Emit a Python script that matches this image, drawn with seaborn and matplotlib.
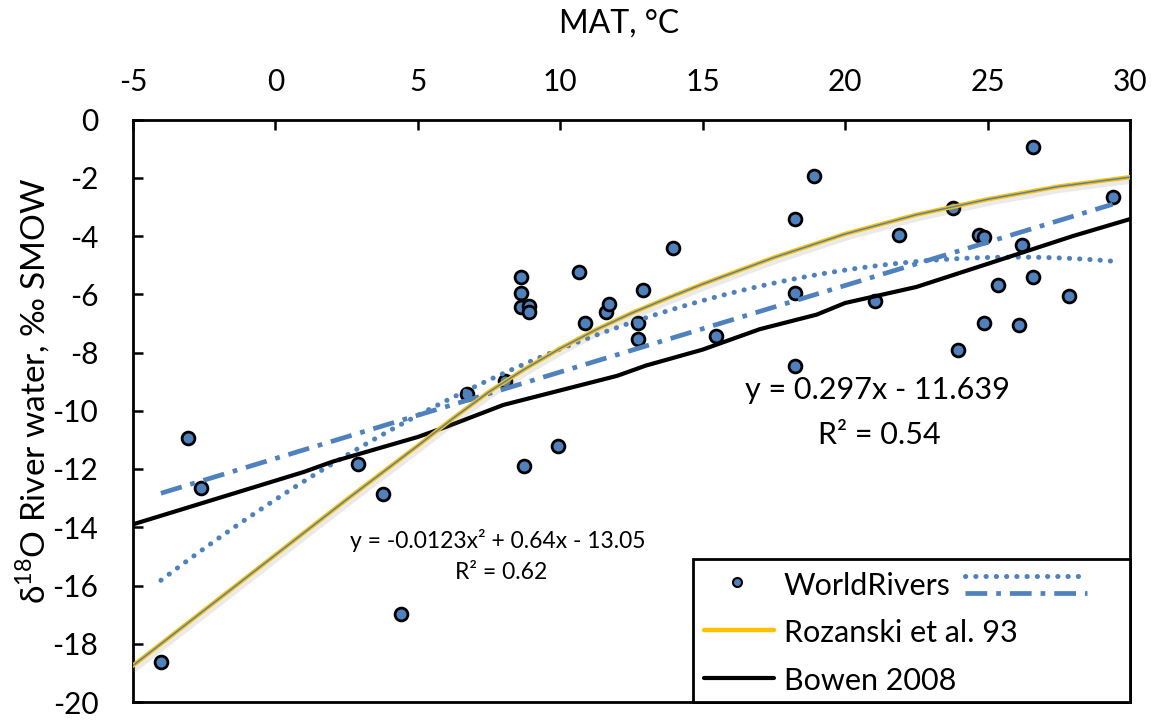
import matplotlib
matplotlib.use("Agg")
import matplotlib.pyplot as plt
import seaborn as sns
import numpy as np
import pandas as pd
from matplotlib import patheffects as pe
from matplotlib.lines import Line2D
from matplotlib.patches import Rectangle

# ---- data -----------------------------------------------------------------
# World rivers: mean annual temperature (°C) and river-water d18O (‰ SMOW)
river_mat = [-4.02, -3.06, -2.62, 2.90, 3.76, 4.42, 6.74, 8.05, 8.61, 8.61,
             8.61, 8.90, 8.90, 8.71, 9.92, 10.64, 10.87, 11.61, 11.71, 12.73,
             12.73, 12.92, 13.95, 15.45, 18.25, 18.25, 18.25, 18.92, 21.06, 21.90,
             23.77, 23.95, 24.71, 24.88, 24.88, 25.35, 26.11, 26.20, 26.58, 26.58,
             27.85, 29.39]
river_d18o = [-18.63, -10.92, -12.65, -11.84, -12.85, -16.97, -9.43, -8.99, -5.42, -5.95,
              -6.43, -6.41, -6.60, -11.91, -11.20, -5.24, -6.97, -6.60, -6.32, -6.98,
              -7.52, -5.87, -4.42, -7.43, -3.40, -5.97, -8.46, -1.94, -6.24, -3.95,
              -3.03, -7.90, -3.95, -4.03, -6.98, -5.69, -7.07, -4.32, -0.93, -5.42,
              -6.07, -2.67]

# Rozanski et al. (1993) relation
roz_mat = [-5, -2.5, 0, 2.5, 5, 6.25, 7.5, 8.75, 10, 11.25, 12.5, 13.75, 15,
           17.5, 20, 22.5, 25, 27.5, 30]
roz_d18o = [-18.75, -16.85, -14.95, -13.05, -11.2, -10.25, -9.35, -8.57, -7.86,
            -7.22, -6.65, -6.14, -5.65, -4.74, -3.93, -3.27, -2.74, -2.3, -1.98]

# Bowen (2008) relation
bowen_mat = [-5, -2, 1, 2, 5, 6, 8, 10, 12, 13, 15, 17, 19, 20, 22.5, 25.4, 28, 30]
bowen_d18o = [-13.9, -13.0, -12.1, -11.75, -10.9, -10.55, -9.8, -9.3, -8.8, -8.45,
              -7.9, -7.2, -6.7, -6.3, -5.75, -4.83, -4.0, -3.42]

# Trendline coefficients fitted to the river data
poly_coef = [-0.0123, 0.64, -13.05]   # second order
poly_r2 = 0.62
lin_coef = [0.297, -11.639]           # linear
lin_r2 = 0.54

x_ticks = [-5, 0, 5, 10, 15, 20, 25, 30]
y_ticks = [0, -2, -4, -6, -8, -10, -12, -14, -16, -18, -20]

# ---- style ----------------------------------------------------------------
BLUE = "#4F81BD"
ORANGE = "#FFC000"
DOT = (0, (0.05, 2.0))
DASHDOT = (0, (4.6, 1.9, 1.0, 1.9))

sns.set_theme(style="white")
plt.rcParams["font.family"] = ["Lato", "DejaVu Sans"]
plt.rcParams["mathtext.fontset"] = "custom"
plt.rcParams["mathtext.rm"] = "Lato"

fig = plt.figure(figsize=(11.54, 7.21), dpi=100)
AX_L, AX_R, AX_T, AX_B = 133, 1130, 119.5, 702
W, H = 1154, 721
ax = fig.add_axes([AX_L / W, 1 - AX_B / H, (AX_R - AX_L) / W, (AX_B - AX_T) / H])

rivers = pd.DataFrame({"MAT": river_mat, "d18O": river_d18o})
roz = pd.DataFrame({"MAT": roz_mat, "d18O": roz_d18o})
bowen = pd.DataFrame({"MAT": bowen_mat, "d18O": bowen_d18o})

xs = np.linspace(min(river_mat), max(river_mat), 200)
trend = pd.DataFrame({"MAT": xs,
                      "poly": np.polyval(poly_coef, xs),
                      "lin": np.polyval(lin_coef, xs)})

# scatter of river samples
sns.scatterplot(data=rivers, x="MAT", y="d18O", ax=ax, s=85, color=BLUE,
                edgecolor="black", linewidth=2.0, zorder=3, legend=False)

# trendlines
sns.lineplot(data=trend, x="MAT", y="poly", ax=ax, color=BLUE, lw=3.6, zorder=4,
             legend=False)
ax.lines[-1].set_linestyle(DOT)
ax.lines[-1].set_dash_capstyle("round")
sns.lineplot(data=trend, x="MAT", y="lin", ax=ax, color=BLUE, lw=3.4, zorder=4,
             legend=False)
ax.lines[-1].set_linestyle(DASHDOT)
ax.lines[-1].set_dash_capstyle("butt")

# Bowen 2008
sns.lineplot(data=bowen, x="MAT", y="d18O", ax=ax, color="black", lw=3.0,
             zorder=5, legend=False)
ax.lines[-1].set_solid_capstyle("round")

# Rozanski et al. 93, with a soft shadow and a thin blue line on top
sns.lineplot(data=roz, x="MAT", y="d18O", ax=ax, color=ORANGE, lw=3.2, zorder=6,
             legend=False)
ax.lines[-1].set_path_effects([pe.SimpleLineShadow(offset=(1.5, -3), shadow_color="gray",
                                                   alpha=0.16),
                               pe.Normal()])
sns.lineplot(data=roz, x="MAT", y="d18O", ax=ax, color=BLUE, lw=1.1, zorder=7,
             legend=False)

# ---- axes -----------------------------------------------------------------
ax.set_xlim(-5, 30)
ax.set_ylim(-20, 0)
ax.set_xticks(x_ticks)
ax.set_yticks(y_ticks)
ax.set_xticklabels([str(t) for t in x_ticks])
ax.set_yticklabels([str(t) for t in y_ticks])
ax.xaxis.tick_top()
ax.xaxis.set_label_position("top")
ax.tick_params(axis="x", direction="in", length=7, width=1.8, pad=17,
               labelsize=21.5, colors="black", top=True, bottom=False)
ax.tick_params(axis="y", direction="in", length=7, width=1.8, pad=25,
               labelsize=21.5, colors="black", left=True)
for side in ["left", "top", "right", "bottom"]:
    ax.spines[side].set_visible(True)
    ax.spines[side].set_color("black")
    ax.spines[side].set_linewidth(2.0)
ax.grid(False)

ax.set_xlabel("MAT, °C", fontsize=23, color="black")
ax.xaxis.set_label_coords((619 - AX_L) / (AX_R - AX_L), (AX_B - 24) / (AX_B - AX_T))
ax.xaxis.label.set_va("center")
ax.set_ylabel(r"δ$^{\mathrm{18}}$O River water, ‰ SMOW", fontsize=24, color="black")
ax.yaxis.set_label_coords((33 - AX_L) / (AX_R - AX_L), (AX_B - 391) / (AX_B - AX_T))
ax.yaxis.label.set_va("center")

# ---- trendline equations ----------------------------------------------------
ax.text(21.12, -9.29, f"y = {lin_coef[0]:.3f}x - {abs(lin_coef[1]):.3f}",
        fontsize=22, ha="center", va="center", color="black", zorder=8)
ax.text(21.19, -10.83, f"R² = {lin_r2:.2f}", fontsize=22, ha="center",
        va="center", color="black", zorder=8)
ax.text(7.81, -14.47,
        f"y = {poly_coef[0]:.4f}x² + {poly_coef[1]:.2f}x - {abs(poly_coef[2]):.2f}",
        fontsize=16.5, ha="center", va="center", color="black", zorder=8)
ax.text(7.92, -15.54, f"R² = {poly_r2:.2f}", fontsize=16.5, ha="center",
        va="center", color="black", zorder=8)


# ---- legend box -------------------------------------------------------------
def frac(px, py):
    return (px - AX_L) / (AX_R - AX_L), (AX_B - py) / (AX_B - AX_T)


x0, y1 = frac(693, 559)
ax.add_patch(Rectangle((x0, 0), 1 - x0, y1, transform=ax.transAxes,
                       facecolor="white", edgecolor="black", lw=2.0,
                       zorder=20, clip_on=False))

mx, my = frac(737, 582)
ax.add_line(Line2D([mx], [my], transform=ax.transAxes, marker="o", ms=6.5,
                   mfc=BLUE, mec="black", mew=1.5, ls="none", zorder=21))
ax.text(*frac(784, 595), "WorldRivers", transform=ax.transAxes, fontsize=22,
        ha="left", va="baseline", color="black", zorder=21)
lx0, ly_dot = frac(965, 576)
lx1, ly_dd = frac(1087, 593)
ax.add_line(Line2D([lx0, lx1], [ly_dot, ly_dot], transform=ax.transAxes, color=BLUE,
                   lw=3.6, ls=DOT, dash_capstyle="round", zorder=21))
ax.add_line(Line2D([lx0, lx1], [ly_dd, ly_dd], transform=ax.transAxes, color=BLUE,
                   lw=3.4, ls=DASHDOT, zorder=21))

sx0, sy_roz = frac(704, 630)
sx1, sy_bow = frac(774, 678)
ax.add_line(Line2D([sx0, sx1], [sy_roz, sy_roz], transform=ax.transAxes,
                   color=ORANGE, lw=3.2, zorder=21))
ax.text(*frac(784, 642), "Rozanski et al. 93", transform=ax.transAxes, fontsize=22,
        ha="left", va="baseline", color="black", zorder=21)
ax.add_line(Line2D([sx0, sx1], [sy_bow, sy_bow], transform=ax.transAxes,
                   color="black", lw=3.0, solid_capstyle="round", zorder=21))
ax.text(*frac(784, 690), "Bowen 2008", transform=ax.transAxes, fontsize=22,
        ha="left", va="baseline", color="black", zorder=21)

fig.savefig("out.png", dpi=100, facecolor="white")
